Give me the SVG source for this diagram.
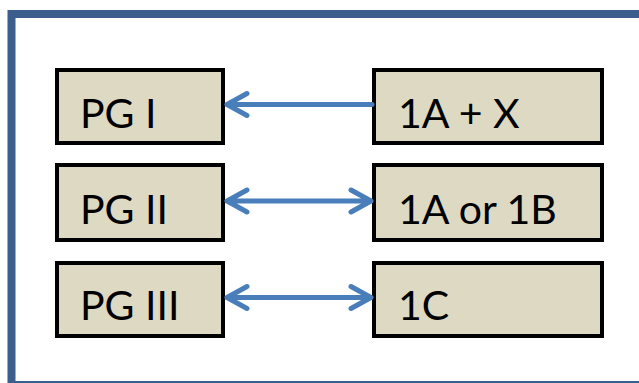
<svg xmlns="http://www.w3.org/2000/svg" width="639" height="383" viewBox="0 0 639 383">
<style>
.box{fill:#ddd9c3;stroke:#000;stroke-width:4}
.lbl{font-family:Lato,"Open Sans","Liberation Sans",sans-serif;font-size:41px;fill:#000}
.con{stroke:#4a7ebb;stroke-width:5;fill:none;stroke-linecap:round;stroke-linejoin:round}
</style>
<rect width="639" height="383" fill="#fff"/>
<rect id="frame" x="11.5" y="14" width="640" height="371" fill="none" stroke="#3b5e8c" stroke-width="8"/>
<g id="pg1"><rect class="box" x="57" y="70" width="166" height="73"/><text class="lbl" x="80" y="128">PG I</text></g>
<g id="pg2"><rect class="box" x="57" y="165" width="166" height="75"/><text class="lbl" x="80" y="224">PG II</text></g>
<g id="pg3"><rect class="box" x="57" y="263" width="166" height="73"/><text class="lbl" x="80" y="320">PG III</text></g>
<g id="r1"><rect class="box" x="374" y="70" width="228" height="73"/><text class="lbl" x="398" y="128">1A + X</text></g>
<g id="r2"><rect class="box" x="374" y="165" width="228" height="75"/><text class="lbl" x="398" y="224">1A or 1B</text></g>
<g id="r3"><rect class="box" x="374" y="263" width="228" height="73"/><text class="lbl" x="398" y="320">1C</text></g>
<g id="connectors">
<path class="con" d="M372 104.5H227M247 93.5L227 104.5L247 115.5"/>
<path class="con" d="M227 201H371M247 190L227 201L247 212M351 190L371 201L351 212"/>
<path class="con" d="M227 297.5H371M247 286.5L227 297.5L247 308.5M351 286.5L371 297.5L351 308.5"/>
</g>
</svg>
